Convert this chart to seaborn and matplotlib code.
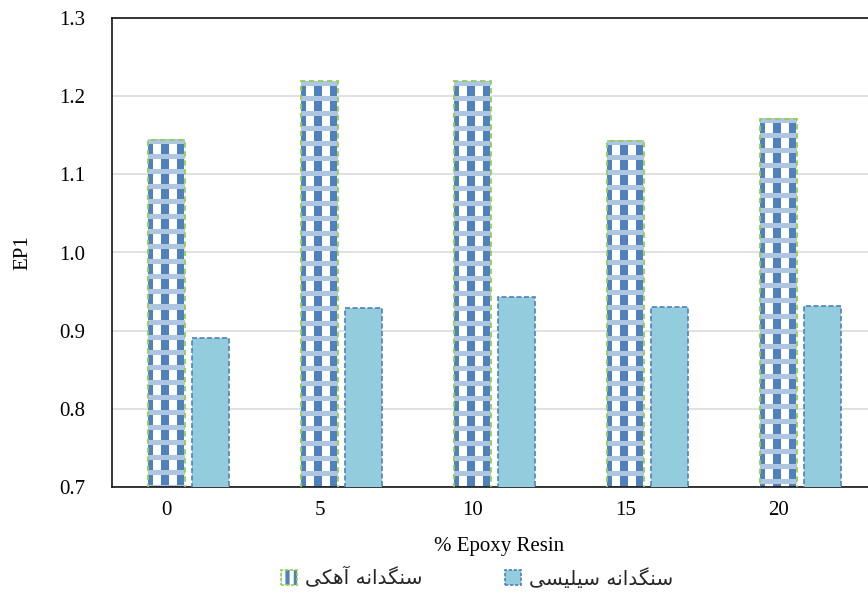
import numpy as np
import pandas as pd
import matplotlib
matplotlib.use("Agg")
import matplotlib.pyplot as plt
import seaborn as sns
from matplotlib.patches import Patch
from matplotlib.legend_handler import HandlerTuple
from matplotlib.colors import to_rgb

# ---- data -------------------------------------------------------------
resin_pct = ["0", "5", "10", "15", "20"]
limestone = [1.144, 1.219, 1.219, 1.143, 1.171]
silica = [0.890, 0.929, 0.943, 0.930, 0.931]
series_names = ["سنگدانه آهکی", "سنگدانه سیلیسی"]
y_ticks = [0.7, 0.8, 0.9, 1.0, 1.1, 1.2, 1.3]
x_title = "% Epoxy Resin"
y_title = "EP1"

BLUE = "#4F81BD"
LIGHT_BLUE = "#AFC6E3"
GREEN = "#92D050"
AQUA = "#93CDDD"


# ---- minimal Persian shaping (presentation forms + visual order) --------
FORMS = {
    "\u0633": ("\uFEB1", "\uFEB2", "\uFEB3", "\uFEB4"),  # seen
    "\u0646": ("\uFEE5", "\uFEE6", "\uFEE7", "\uFEE8"),  # noon
    "\u06AF": ("\uFB92", "\uFB93", "\uFB94", "\uFB95"),  # gaf
    "\u0647": ("\uFEE9", "\uFEEA", "\uFEEB", "\uFEEC"),  # heh
    "\u06A9": ("\uFB8E", "\uFB8F", "\uFB90", "\uFB91"),  # keheh
    "\u06CC": ("\uFBFC", "\uFBFD", "\uFBFE", "\uFBFF"),  # farsi yeh
    "\u0644": ("\uFEDD", "\uFEDE", "\uFEDF", "\uFEE0"),  # lam
    "\u062F": ("\uFEA9", "\uFEAA"),                      # dal
    "\u0627": ("\uFE8D", "\uFE8E"),                      # alef
    "\u0622": ("\uFE81", "\uFE82"),                      # alef madda
}


def shape_rtl(text):
    out = []
    for i, ch in enumerate(text):
        forms = FORMS.get(ch)
        if forms is None:
            out.append(ch)
            continue
        prev = text[i - 1] if i > 0 else None
        nxt = text[i + 1] if i + 1 < len(text) else None
        join_prev = prev in FORMS and len(FORMS[prev]) == 4
        join_next = len(forms) == 4 and nxt in FORMS
        if join_prev and join_next:
            out.append(forms[3])
        elif join_prev:
            out.append(forms[1])
        elif join_next:
            out.append(forms[2])
        else:
            out.append(forms[0])
    return "".join(reversed(out))


df = pd.DataFrame({
    "resin": resin_pct * 2,
    "EP1": limestone + silica,
    "agg": [series_names[0]] * len(resin_pct) + [series_names[1]] * len(resin_pct),
})

sns.set_theme(style="white")
plt.rcParams["font.family"] = ["Liberation Serif", "DejaVu Sans"]
plt.rcParams["hatch.linewidth"] = 3.0

W, H = 868, 598
fig = plt.figure(figsize=(W / 100, H / 100), dpi=100)
ax = fig.add_axes([112 / W, 111 / H, 765 / W, 469 / H])

sns.barplot(data=df, x="resin", y="EP1", hue="agg", hue_order=series_names,
            order=resin_pct, palette=["white", AQUA], saturation=1,
            width=0.575, gap=0.18, errorbar=None, legend=False, ax=ax)

ax.set_xlim(-0.5, 4.5)
ax.set_ylim(y_ticks[0], y_ticks[-1])

# woven texture for the limestone bars, clipped to each bar
blue_rgb = np.array(to_rgb(BLUE))
light_rgb = np.array(to_rgb(LIGHT_BLUE))
white_rgb = np.ones(3)
for bar in ax.containers[0]:
    bb = bar.get_bbox()
    (px0, py0), (px1, py1) = ax.transData.transform([[bb.x0, bb.y0], [bb.x1, bb.y1]])
    w = max(int(round(px1 - px0)), 1)
    h = max(int(round(py1 - py0)), 1)
    rows = np.arange(h)[:, None]
    cols = np.arange(w)[None, :]
    band = np.broadcast_to((rows % 15) < 5, (h, w))
    column = np.broadcast_to(((cols + 2) % 15) < 7, (h, w))
    img = np.where(column[..., None], blue_rgb, white_rgb)
    img = np.where(band[..., None], light_rgb, img)
    ax.imshow(img, extent=(bb.x0, bb.x1, bb.y0, bb.y1), origin="upper",
              aspect="auto", interpolation="nearest", zorder=2.5, clip_path=bar)
    bar.set_facecolor("none")
    bar.set_edgecolor(GREEN)
    bar.set_linestyle((0, (3, 2)))
    bar.set_linewidth(1.3)
    bar.set_zorder(3)

for bar in ax.containers[1]:
    bar.set_edgecolor(BLUE)
    bar.set_linestyle((0, (3, 1.5)))
    bar.set_linewidth(1.2)
    bar.set_zorder(3)

ax.set_xlim(-0.5, 4.5)
ax.set_ylim(y_ticks[0], y_ticks[-1])
ax.set_aspect("auto")

# category labels sit under the first bar of each group
tick_pos = [b.get_x() + b.get_width() / 2 for b in ax.containers[0]]
ax.set_xticks(tick_pos, resin_pct)
ax.set_yticks(y_ticks, [f"{v:.1f}" for v in y_ticks])
ax.tick_params(axis="both", length=0, labelsize=15, colors="black")
ax.tick_params(axis="y", pad=19)
ax.tick_params(axis="x", pad=10)

ax.yaxis.grid(True, color="#D9D9D9", linewidth=1.1)
ax.xaxis.grid(False)
ax.set_axisbelow(True)
for side in ["top", "left", "bottom"]:
    ax.spines[side].set_color("black")
    ax.spines[side].set_linewidth(1.1)
    ax.spines[side].set_visible(True)
ax.spines["right"].set_visible(False)

ax.set_xlabel(x_title, fontsize=15, color="black")
ax.set_ylabel(y_title, fontsize=15, color="black")
ax.xaxis.set_label_coords((499 - 112) / 765, -0.107)
ax.yaxis.set_label_coords(-0.104, 0.5)

# legend
h_lime = (Patch(facecolor="white", edgecolor=BLUE, hatch="||", linewidth=0),
          Patch(facecolor="none", edgecolor=GREEN, linestyle=(0, (2, 1)), linewidth=1.2))
h_sil = Patch(facecolor=AQUA, edgecolor=BLUE, linestyle=(0, (2, 1)), linewidth=1.2)
fig.legend([h_lime, h_sil], [shape_rtl(s) for s in series_names],
           handler_map={tuple: HandlerTuple(ndivide=1, pad=0)},
           loc="center", bbox_to_anchor=(477 / W, 1 - 578 / H), ncol=2,
           frameon=False, prop={"family": ["DejaVu Sans"], "size": 14.5},
           handlelength=0.8, handleheight=0.8, handletextpad=0.4,
           columnspacing=4.1)

fig.savefig("out.png", dpi=100, facecolor="white")
